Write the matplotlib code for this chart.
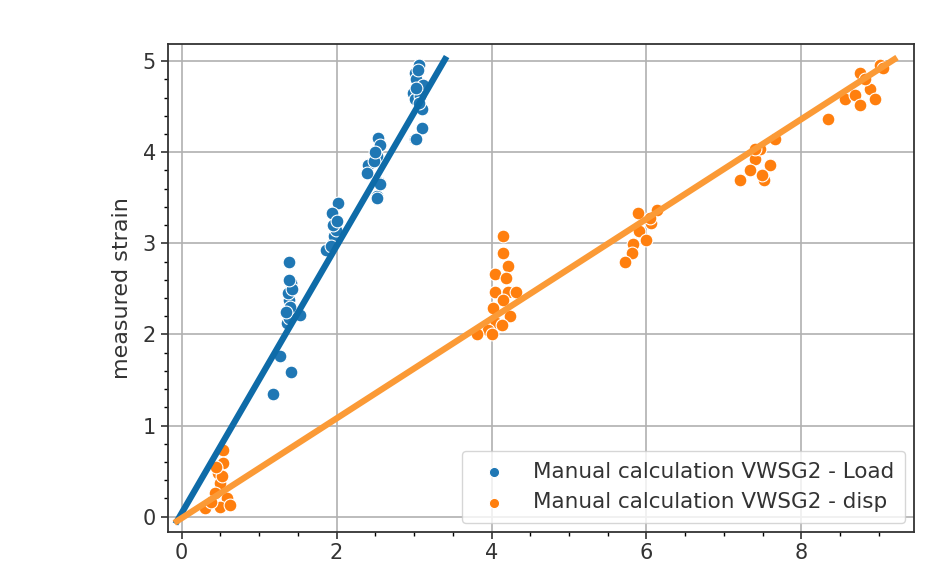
import matplotlib
matplotlib.use("Agg")
import matplotlib.pyplot as plt
from matplotlib.ticker import MultipleLocator

# scatter points
load_x = [1.18, 1.27, 1.41, 1.39, 1.41, 1.39, 1.53, 1.36, 1.38, 1.40, 1.37, 1.42, 1.35, 1.39,
          2.02, 1.94, 1.87, 1.95, 1.97, 1.99, 1.96, 2.00, 1.93,
          2.52, 2.56, 2.54, 2.52, 2.41, 2.39, 2.56, 2.56, 2.52, 2.48, 2.50,
          3.07, 3.01, 3.03, 3.12, 2.99, 3.01, 3.10, 3.10, 3.01, 3.05, 3.08, 3.03, 3.06, 3.03]
load_y = [1.35, 1.76, 1.59, 2.79, 2.56, 2.38, 2.21, 2.12, 2.18, 2.30, 2.45, 2.50, 2.25, 2.60,
          3.44, 3.33, 2.93, 3.00, 3.08, 3.15, 3.20, 3.25, 2.97,
          3.52, 3.66, 4.16, 3.96, 3.86, 3.77, 3.65, 4.08, 3.50, 3.90, 4.00,
          4.96, 4.87, 4.80, 4.74, 4.65, 4.58, 4.47, 4.27, 4.15, 4.90, 4.62, 4.70, 4.54, 4.14]

disp_x = [0.54, 0.54, 0.47, 0.49, 0.43, 0.58, 0.49, 0.62, 0.30, 0.38, 0.52, 0.45,
          4.15, 4.15, 4.21, 4.04, 4.19, 4.04, 4.21, 4.32, 4.15, 4.02, 4.24, 4.06, 3.96, 3.81, 4.00, 4.13,
          5.89, 6.13, 6.06, 5.91, 6.00, 5.83, 5.81, 5.72, 6.05,
          7.40, 7.46, 7.66, 7.21, 7.52, 7.34, 7.59, 7.49, 7.40,
          8.75, 9.01, 8.34, 8.56, 8.69, 8.88, 8.82, 8.95, 8.75, 9.05]
disp_y = [0.73, 0.59, 0.48, 0.37, 0.26, 0.20, 0.11, 0.13, 0.10, 0.16, 0.45, 0.55,
          3.08, 2.89, 2.75, 2.66, 2.62, 2.47, 2.47, 2.47, 2.38, 2.29, 2.20, 2.13, 2.05, 2.00, 2.00, 2.10,
          3.33, 3.37, 3.22, 3.13, 3.04, 2.99, 2.89, 2.80, 3.28,
          3.92, 4.03, 4.14, 3.69, 3.69, 3.80, 3.86, 3.75, 4.03,
          4.87, 4.96, 4.36, 4.58, 4.63, 4.69, 4.80, 4.58, 4.52, 4.92]

# fitted lines
fit_load_x = [-0.06, 3.40]
fit_load_y = [-0.05, 5.02]
fit_disp_x = [-0.06, 9.20]
fit_disp_y = [-0.05, 5.02]

labels = ["Manual calculation VWSG2 - Load", "Manual calculation VWSG2 - disp"]

fig = plt.figure(figsize=(9.42, 5.76), dpi=100)
ax = fig.add_axes([0.178, 0.077, 0.792, 0.847])

ax.scatter(load_x, load_y, s=85, color="#1f77b4", edgecolors="white", linewidths=0.8,
           label=labels[0], zorder=3)
ax.scatter(disp_x, disp_y, s=85, color="#ff7f0e", edgecolors="white", linewidths=0.8,
           label=labels[1], zorder=3)
ax.plot(fit_load_x, fit_load_y, color="#0e6ba8", lw=4.5, zorder=4)
ax.plot(fit_disp_x, fit_disp_y, color="#fb9a36", lw=4.5, zorder=4)

ax.set_xlim(-0.18, 9.45)
ax.set_ylim(-0.165, 5.19)
ax.xaxis.set_major_locator(MultipleLocator(2))
ax.xaxis.set_minor_locator(MultipleLocator(0.5))
ax.yaxis.set_major_locator(MultipleLocator(1))
ax.yaxis.set_minor_locator(MultipleLocator(0.2))
ax.grid(True, which="major", color="#b0b0b0", lw=1.2)
ax.set_axisbelow(True)
ax.tick_params(labelsize=15, length=5, width=1.2, colors="#333333")
ax.tick_params(which="minor", length=3, width=1)
for s in ax.spines.values():
    s.set_color("#333333")
    s.set_linewidth(1.3)

ax.set_ylabel("measured strain", fontsize=16, color="#333333", labelpad=8)

leg = ax.legend(loc="lower right", fontsize=15.5, markerscale=0.8,
                framealpha=0.8, borderpad=0.5, borderaxespad=0.4)
for t in leg.get_texts():
    t.set_color("#333333")

fig.savefig("out.png", dpi=100)
